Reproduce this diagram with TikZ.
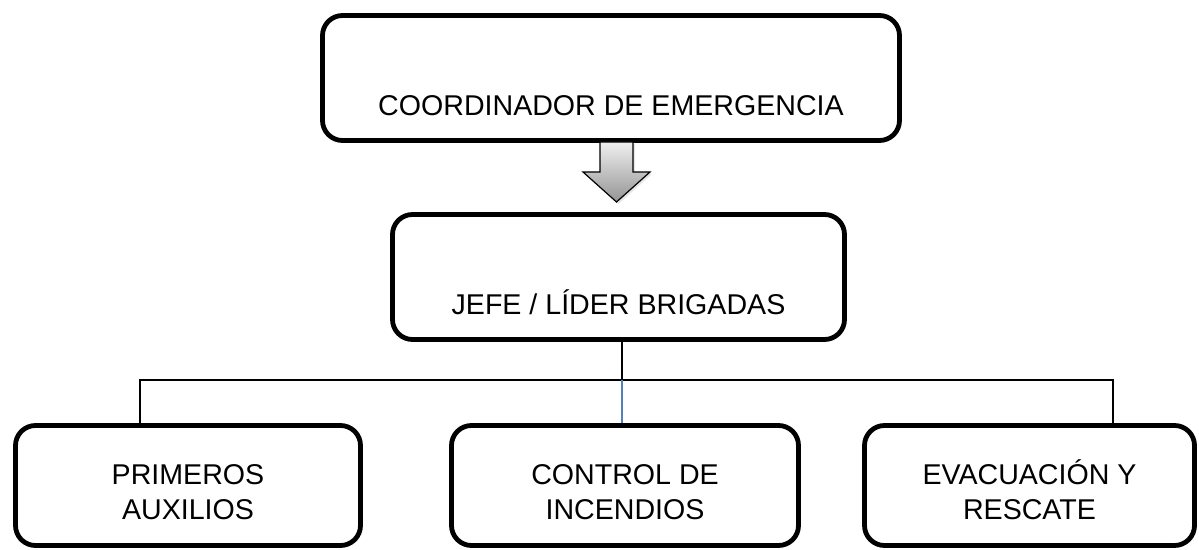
\documentclass[tikz,border=0pt]{standalone}
\usepackage{fontspec}
\setmainfont{Liberation Sans}
\usetikzlibrary{positioning, calc, shadows}
\definecolor{linkblue}{HTML}{4F81BD}

\begin{document}
\begin{tikzpicture}[
  x=0.5pt, y=-0.5pt,
  font=\fontsize{14.3}{17.5}\selectfont,
  box/.style={rectangle, draw=black, line width=2.4pt, rounded corners=10pt, fill=white, align=center, inner sep=0pt},
  topbox/.style={box, minimum height=62.5pt, text height=38pt, text depth=0pt},
  leafbox/.style={box, minimum height=60pt, text height=33.5pt, text depth=0pt},
  link/.style={draw=black, line width=0.7pt},
  blockarr/.style={draw=black, line width=0.6pt, top color=black!6, bottom color=black!42, drop shadow={opacity=0.2, shadow xshift=1pt, shadow yshift=-1pt}},
]
\useasboundingbox (0,0) rectangle (1199,550);

\node[topbox, minimum width=288.5pt] (coord) at (611,78) {COORDINADOR DE EMERGENCIA};
\node[topbox, minimum width=226pt] (jefe) at (618.5,277) {JEFE / LÍDER BRIGADAS};

\node[leafbox, minimum width=172.5pt] (prim) at (188,485.5) {PRIMEROS\\AUXILIOS};
\node[leafbox, minimum width=173.5pt] (ctrl) at (625,485.5) {CONTROL DE\\INCENDIOS};
\node[leafbox, minimum width=165pt] (evac) at (1029.5,485.5) {EVACUACIÓN Y\\RESCATE};

\draw[blockarr] (600,142) -- (633,142) -- (633,172) -- (650,172) -- (616.5,202) -- (583,172) -- (600,172) -- cycle;

\coordinate (busL) at (140,380);
\coordinate (busR) at (1113,380);

\draw[link] (jefe.south) ++(3.5,0) coordinate (jdrop) -- (jdrop |- busL);
\draw[link] (busL |- prim.north) -- (busL) -- (busR) -- (busR |- evac.north);
\draw[link, draw=linkblue] (jdrop |- busL) -- (jdrop |- ctrl.north);
\end{tikzpicture}
\end{document}
